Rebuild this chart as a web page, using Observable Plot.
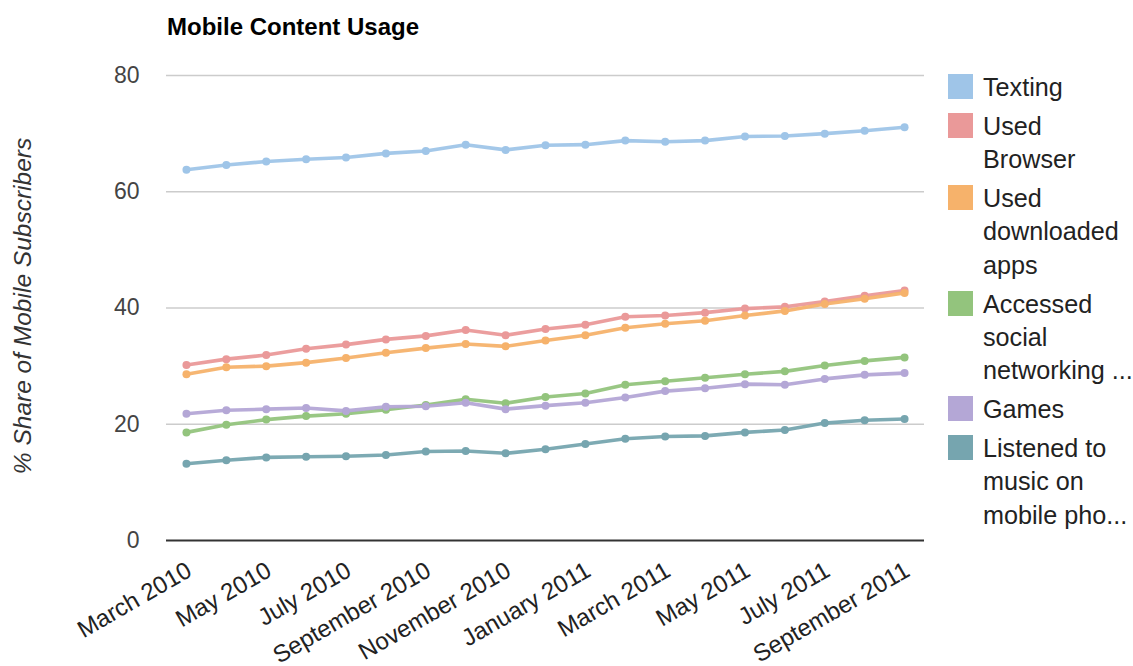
<!DOCTYPE html>
<html>
<head>
<meta charset="utf-8">
<script src="https://cdn.jsdelivr.net/npm/d3@7"></script>
<script src="https://cdn.jsdelivr.net/npm/@observablehq/plot@0.6"></script>
<style>
  html, body { margin: 0; padding: 0; background: #fff; }
  #wrap { position: relative; width: 1133px; height: 666px; font-family: "Liberation Sans", Arial, sans-serif; }
  #title { position: absolute; left: 167px; top: 15px; font-size: 24px; font-weight: bold; color: #000; line-height: 24px; white-space: nowrap; }
  #ylabel { position: absolute; left: 23px; top: 306px; transform: translate(-50%, -50%) rotate(-90deg); font-size: 24.5px; font-style: italic; color: #333; white-space: nowrap; }
  #legend { position: absolute; left: 948px; top: 0; }
  .entry { position: absolute; left: 0; white-space: pre; font-size: 25.2px; line-height: 33.3px; color: #222; }
  .sw { position: absolute; left: 0; width: 25px; height: 25px; }
  .lt { position: absolute; left: 35px; top: 0; }
  #chart { position: absolute; left: 0; top: 0; }
</style>
</head>
<body>
<div id="wrap">
  <div id="chart"></div>
  <div id="title"></div>
  <div id="ylabel"></div>
  <div id="legend"></div>
</div>
<script>
const titleText = "Mobile Content Usage";
const yLabel = "% Share of Mobile Subscribers";

const months = [
  "March 2010", "April 2010", "May 2010", "June 2010", "July 2010", "August 2010",
  "September 2010", "October 2010", "November 2010", "December 2010", "January 2011",
  "February 2011", "March 2011", "April 2011", "May 2011", "June 2011", "July 2011",
  "August 2011", "September 2011"
];
const xTickLabels = [
  "March 2010", "May 2010", "July 2010", "September 2010", "November 2010",
  "January 2011", "March 2011", "May 2011", "July 2011", "September 2011"
];
const yTicks = [0, 20, 40, 60, 80];

const seriesNames = [
  "Texting", "Used Browser", "Used downloaded apps",
  "Accessed social networking ...", "Games", "Listened to music on mobile pho..."
];
const legendLines = [
  ["Texting"],
  ["Used", "Browser"],
  ["Used", "downloaded", "apps"],
  ["Accessed", "social", "networking ..."],
  ["Games"],
  ["Listened to", "music on", "mobile pho..."]
];
const seriesColors = ["#9fc5e8", "#ea9999", "#f6b26b", "#93c47d", "#b4a7d6", "#76a5af"];

const texting  = [63.8, 64.6, 65.2, 65.6, 65.9, 66.6, 67.0, 68.1, 67.2, 68.0, 68.1, 68.8, 68.6, 68.8, 69.5, 69.6, 70.0, 70.5, 71.1];
const browser  = [30.2, 31.2, 31.9, 33.0, 33.7, 34.6, 35.2, 36.2, 35.3, 36.4, 37.1, 38.5, 38.7, 39.2, 39.9, 40.2, 41.1, 42.1, 43.0];
const apps     = [28.6, 29.8, 30.0, 30.6, 31.4, 32.3, 33.1, 33.8, 33.4, 34.4, 35.3, 36.6, 37.3, 37.8, 38.7, 39.5, 40.7, 41.6, 42.6];
const social   = [18.6, 19.9, 20.8, 21.4, 21.8, 22.5, 23.3, 24.3, 23.6, 24.7, 25.3, 26.8, 27.4, 28.0, 28.6, 29.1, 30.1, 30.9, 31.5];
const games    = [21.8, 22.4, 22.6, 22.8, 22.3, 23.0, 23.1, 23.7, 22.6, 23.2, 23.7, 24.6, 25.7, 26.2, 26.9, 26.8, 27.8, 28.5, 28.8];
const music    = [13.2, 13.8, 14.3, 14.4, 14.5, 14.7, 15.3, 15.4, 15.0, 15.7, 16.6, 17.5, 17.9, 18.0, 18.6, 19.0, 20.2, 20.7, 20.9];

const seriesValues = [texting, browser, apps, social, games, music];

const data = [];
seriesNames.forEach((name, s) => {
  seriesValues[s].forEach((v, i) => data.push({series: name, month: months[i], value: v}));
});

const chart = Plot.plot({
  width: 1133,
  height: 666,
  marginLeft: 166,
  marginRight: 209,
  marginTop: 75,
  marginBottom: 126,
  style: {fontFamily: "'Liberation Sans', Arial, sans-serif", background: "transparent", overflow: "visible"},
  x: {type: "point", domain: months, padding: 0.5, round: false, label: null},
  y: {domain: [0, 80], label: null},
  color: {domain: seriesNames, range: seriesColors},
  marks: [
    Plot.gridY([20, 40, 60, 80], {stroke: "#cccccc", strokeOpacity: 1, strokeWidth: 1.6}),
    Plot.ruleY([0], {stroke: "#333333", strokeWidth: 2}),
    Plot.axisY(yTicks, {tickSize: 0, tickPadding: 27, label: null, fontSize: 23, fill: "#444"}),
    Plot.axisX(xTickLabels, {tickSize: 0, tickPadding: 28, tickRotate: -30, label: null, fontSize: 24, fill: "#222", dx: 3}),
    Plot.line(data, {x: "month", y: "value", z: "series", stroke: "series", strokeWidth: 3.6, strokeOpacity: 0.95}),
    Plot.dot(data, {x: "month", y: "value", fill: "series", r: 4})
  ]
});
document.getElementById("chart").appendChild(chart);

document.getElementById("title").textContent = titleText;
document.getElementById("ylabel").textContent = yLabel;

const legendBox = document.getElementById("legend");
let entryTop = 71;
legendLines.forEach((lines, i) => {
  const e = document.createElement("div");
  e.className = "entry";
  e.style.top = entryTop + "px";
  const sw = document.createElement("div");
  sw.className = "sw";
  sw.style.top = "3px";
  sw.style.background = seriesColors[i];
  const t = document.createElement("div");
  t.className = "lt";
  t.textContent = lines.join("\n");
  e.appendChild(sw);
  e.appendChild(t);
  legendBox.appendChild(e);
  entryTop += lines.length * 33.3 + 5.6;
});
</script>
</body>
</html>
